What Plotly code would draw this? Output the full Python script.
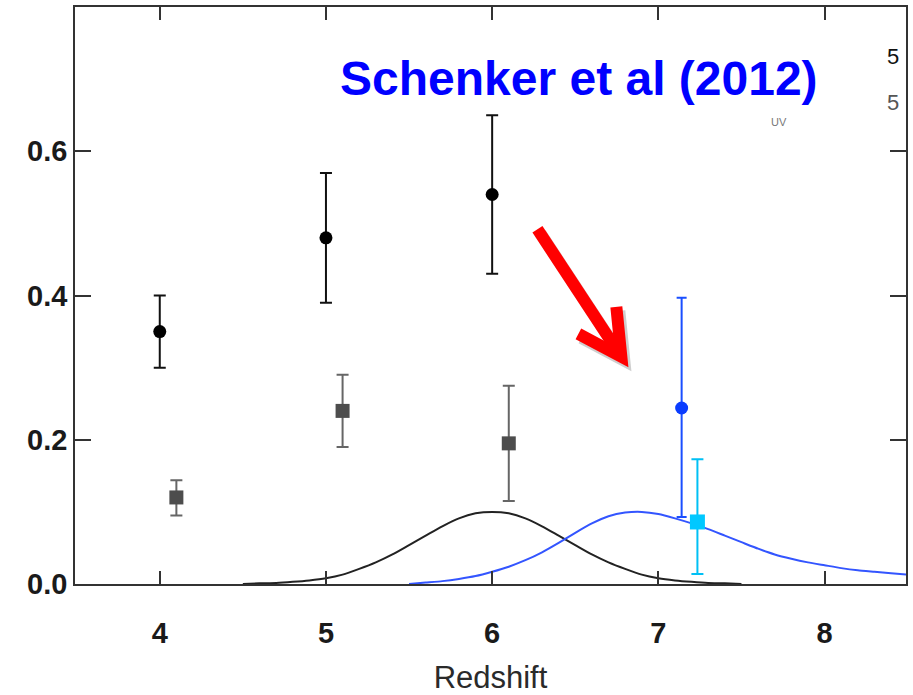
import plotly.graph_objects as go

# ---- data ----
black_x = [4.0, 5.0, 6.0]
black_y = [0.35, 0.48, 0.54]
black_err = [0.05, 0.09, 0.11]

gray_x = [4.1, 5.1, 6.1]
gray_y = [0.12, 0.24, 0.195]
gray_err_plus = [0.024, 0.05, 0.08]
gray_err_minus = [0.025, 0.05, 0.08]

blue_pt_x = [7.14]
blue_pt_y = [0.244]
blue_err_plus = [0.153]
blue_err_minus = [0.151]

cyan_x = [7.235]
cyan_y = [0.086]
cyan_err_plus = [0.087]
cyan_err_minus = [0.072]

curve_black_x = [4.5, 4.6, 4.7, 4.8, 4.9, 5.0, 5.1, 5.2, 5.3, 5.4, 5.5, 5.6, 5.7, 5.8, 5.9, 6.0,
                 6.1, 6.2, 6.3, 6.4, 6.5, 6.6, 6.7, 6.8, 6.9, 7.0, 7.1, 7.2, 7.3, 7.4, 7.5]
curve_black_y = [0.000, 0.001, 0.0015, 0.003, 0.005, 0.008, 0.013, 0.021, 0.030, 0.041, 0.054, 0.067,
                 0.080, 0.091, 0.098, 0.100, 0.098, 0.091, 0.080, 0.067, 0.054, 0.041, 0.030, 0.021,
                 0.013, 0.008, 0.005, 0.003, 0.0015, 0.001, 0.000]

curve_blue_x = [5.5, 5.6, 5.7, 5.8, 5.9, 6.0, 6.1, 6.2, 6.3, 6.4, 6.5, 6.6, 6.7, 6.8, 6.9, 7.0,
                7.1, 7.2, 7.3, 7.4, 7.5, 7.6, 7.7, 7.8, 7.9, 8.0, 8.1, 8.2, 8.3, 8.4, 8.5]
curve_blue_y = [0.000, 0.002, 0.004, 0.007, 0.011, 0.017, 0.024, 0.033, 0.044, 0.057, 0.071, 0.084,
                0.094, 0.099, 0.100, 0.097, 0.091, 0.084, 0.076, 0.067, 0.058, 0.049, 0.041, 0.035,
                0.030, 0.026, 0.022, 0.019, 0.017, 0.015, 0.013]

x_ticks = [4, 5, 6, 7, 8]
y_ticks = [0.0, 0.2, 0.4, 0.6]
y_ticktext = ["0.0", "0.2", "0.4", "0.6"]

# ---- layout geometry (pixels) ----
W, H = 913, 695
L, R, T, B = 75, 6, 5, 111
PW, PH = W - L - R, H - T - B


def px(xp):
    return (xp - L) / PW


def py(yp):
    return (H - B - yp) / PH


FONT = "Liberation Sans, Arial, Helvetica, sans-serif"

fig = go.Figure()

fig.add_trace(go.Scatter(x=curve_black_x, y=curve_black_y, mode="lines",
                         line=dict(color="#222222", width=2, shape="spline", smoothing=0.5),
                         showlegend=False, hoverinfo="skip"))
fig.add_trace(go.Scatter(x=curve_blue_x, y=curve_blue_y, mode="lines",
                         line=dict(color="#3355ff", width=2, shape="spline", smoothing=0.5),
                         showlegend=False, hoverinfo="skip"))

fig.add_trace(go.Scatter(x=black_x, y=black_y, mode="markers",
                         marker=dict(symbol="circle", size=13, color="#000000"),
                         error_y=dict(type="data", array=black_err, color="#111111", thickness=2, width=6),
                         showlegend=False))
fig.add_trace(go.Scatter(x=gray_x, y=gray_y, mode="markers",
                         marker=dict(symbol="square", size=14, color="#4d4d4d"),
                         error_y=dict(type="data", array=gray_err_plus, arrayminus=gray_err_minus,
                                      color="#666666", thickness=2, width=6),
                         showlegend=False))
fig.add_trace(go.Scatter(x=blue_pt_x, y=blue_pt_y, mode="markers",
                         marker=dict(symbol="circle", size=13, color="#0a3cff"),
                         error_y=dict(type="data", array=blue_err_plus, arrayminus=blue_err_minus,
                                      color="#1a4fff", thickness=2, width=5),
                         showlegend=False))
fig.add_trace(go.Scatter(x=cyan_x, y=cyan_y, mode="markers",
                         marker=dict(symbol="square", size=15, color="#00c8ff"),
                         error_y=dict(type="data", array=cyan_err_plus, arrayminus=cyan_err_minus,
                                      color="#00c0f5", thickness=2, width=6),
                         showlegend=False))


# red arrow (with soft grey shadow)
def arrow_paths(dx=0, dy=0):
    shaft = f"M {px(538+dx)} {py(228+dy)} L {px(616+dx)} {py(347+dy)}"
    head = f"M {px(579+dx)} {py(333+dy)} L {px(622+dx)} {py(356+dy)} L {px(617+dx)} {py(306+dy)}"
    return shaft, head


shapes = []
for (dx, dy, col) in [(3, 4, "rgba(165,165,165,0.55)"), (0, 0, "#ff0000")]:
    s, h = arrow_paths(dx, dy)
    shapes.append(dict(type="path", path=s, xref="paper", yref="paper",
                       line=dict(color=col, width=12), layer="above"))
    shapes.append(dict(type="path", path=h, xref="paper", yref="paper",
                       line=dict(color=col, width=12), layer="above"))

annotations = [
    dict(text="<b>Schenker et al (2012)</b>", x=px(580), y=py(77), xref="paper", yref="paper",
         xanchor="center", yanchor="middle", showarrow=False,
         font=dict(family=FONT, size=48, color="#0000ff")),
    dict(text="5", x=px(894), y=py(55), xref="paper", yref="paper", xanchor="center", yanchor="middle",
         showarrow=False, font=dict(family=FONT, size=22, color="#111111")),
    dict(text="5", x=px(894), y=py(101), xref="paper", yref="paper", xanchor="center", yanchor="middle",
         showarrow=False, font=dict(family=FONT, size=22, color="#555555")),
    dict(text="UV", x=px(780), y=py(120), xref="paper", yref="paper", xanchor="center", yanchor="middle",
         showarrow=False, font=dict(family=FONT, size=11, color="#777777")),
]

axis_common = dict(showgrid=False, zeroline=False, showline=True, linecolor="#333333", linewidth=1.5,
                   mirror="ticks", ticks="inside", tickcolor="#333333", tickwidth=1.5,
                   tickfont=dict(family=FONT, size=29, color="#1a1a1a", weight="bold"))

fig.update_layout(
    width=W, height=H,
    margin=dict(l=L, r=R, t=T, b=B),
    plot_bgcolor="white", paper_bgcolor="white",
    shapes=shapes, annotations=annotations,
    xaxis=dict(range=[3.49, 8.49], tickvals=x_ticks, ticklen=13, ticklabelstandoff=22,
               title=dict(text="Redshift", standoff=20,
                          font=dict(family=FONT, size=31, color="#2a2a2a")),
               **axis_common),
    yaxis=dict(range=[0, 0.8], tickvals=y_ticks, ticktext=y_ticktext, ticklen=16, ticklabelstandoff=0,
               **axis_common),
)

fig.write_html("out.html", config={"displayModeBar": False},
               post_script="document.body.style.margin='0';document.body.style.overflow='hidden';")
